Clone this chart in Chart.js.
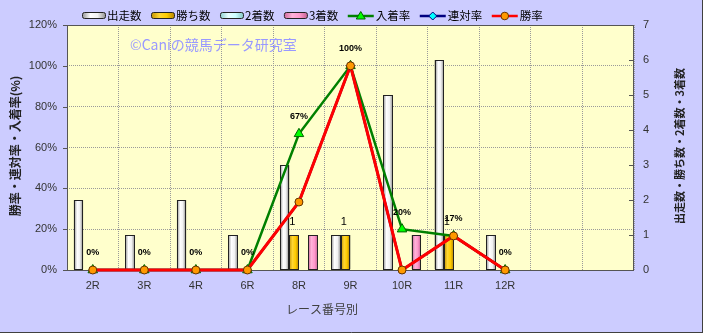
<!DOCTYPE html>
<html><head><meta charset="utf-8">
<script src="https://cdn.jsdelivr.net/npm/chart.js@4.4.1/dist/chart.umd.min.js"></script>
<style>html,body{margin:0;padding:0;background:#CCCCFF;}canvas{display:block;}</style>
</head><body>
<canvas id="c" width="703" height="333"></canvas>
<script>
const categories = ['2R','3R','4R','6R','8R','9R','10R','11R','12R','',''];
const starts   = [2,1,2,1,3,1,5,6,1];
const wins     = [0,0,0,0,1,1,0,1,0];
const seconds  = [0,0,0,0,0,0,0,0,0];
const thirds   = [0,0,0,0,1,0,1,0,0];
const placeRate   = [0,0,0,0,66.7,100,20,16.7,0];
const rentaiRate  = [0,0,0,0,33.3,100,0,16.7,0];
const winRate     = [0,0,0,0,33.3,100,0,16.7,0];
const leftTicks = [0,20,40,60,80,100,120];
const rightTicks = [0,1,2,3,4,5,6,7];

const JP = '"Noto Sans CJK JP", "Noto Sans", sans-serif';
const LAT = '"Liberation Sans", Arial, sans-serif';

const barStyles = {
  '出走数': ['#8f8f8f','#ffffff','#f2f2f2','#8a8a8a'],
  '勝ち数': ['#c09000','#ffd633','#ffcc00','#b08000'],
  '2着数': ['#88cccc','#e8ffff','#ccffff','#80c0c0'],
  '3着数': ['#cc6699','#ffb3d9','#ff99cc','#c06090']
};

function grad(ctx, x0, x1, stops){
  const g = ctx.createLinearGradient(x0,0,x1,0);
  g.addColorStop(0,stops[0]); g.addColorStop(0.35,stops[1]);
  g.addColorStop(0.65,stops[2]); g.addColorStop(1,stops[3]);
  return g;
}

const deco = {
  id:'deco',
  beforeDraw(chart){
    const {ctx, chartArea:a, width, height} = chart;
    ctx.save();
    ctx.fillStyle = '#CCCCFF'; ctx.fillRect(0,0,width,height);
    ctx.fillStyle = '#FFFFCC'; ctx.fillRect(a.left,a.top,a.right-a.left,a.bottom-a.top);
    ctx.restore();
  },
  beforeDatasetsDraw(chart){
    const {ctx, chartArea:a, scales} = chart;
    ctx.save();
    ctx.fillStyle = '#9999FF';
    ctx.font = '14px ' + JP;
    ctx.textBaseline = 'middle'; ctx.textAlign = 'left';
    ctx.fillText('©Caniの競馬データ研究室', 130, 45);
    ctx.strokeStyle = '#555'; ctx.lineWidth = 1;
    ctx.strokeRect(a.left+0.5, a.top+0.5, a.right-a.left-1, a.bottom-a.top);
    ctx.beginPath();
    leftTicks.forEach(v=>{ const y = Math.round(scales.y.getPixelForValue(v))+0.5; ctx.moveTo(a.left-4,y); ctx.lineTo(a.left,y); });
    rightTicks.forEach(v=>{ const y = Math.round(scales.y2.getPixelForValue(v))+0.5; ctx.moveTo(a.right-5,y); ctx.lineTo(a.right,y); });
    ctx.stroke();
    ctx.restore();
  },
  afterDatasetDraw(chart, args){
    const ds = chart.data.datasets[args.index];
    if (ds.type !== 'bar') return;
    const ctx = chart.ctx, st = barStyles[ds.label];
    ctx.save();
    args.meta.data.forEach(el=>{
      const p = el.getProps(['x','y','base','width'], true);
      const l = Math.round(p.x - p.width/2), r = Math.round(p.x + p.width/2);
      const t = Math.round(p.y), b = Math.round(p.base);
      if (b - t < 1) return;
      ctx.fillStyle = grad(ctx, l, r, st);
      ctx.fillRect(l, t, r-l, b-t);
      ctx.strokeStyle = '#222'; ctx.lineWidth = 1;
      ctx.strokeRect(l+0.5, t+0.5, r-l-1, b-t-1);
    });
    ctx.restore();
  },
  afterDatasetsDraw(chart){
    const ctx = chart.ctx;
    ctx.save();
    const metaPlace = chart.getDatasetMeta(2);
    ctx.fillStyle = '#000'; ctx.textAlign = 'center'; ctx.textBaseline = 'middle';
    ctx.font = 'bold 9px ' + LAT;
    metaPlace.data.forEach((pt,i)=>{
      if (placeRate[i] === undefined) return;
      ctx.fillText(Math.round(placeRate[i]) + '%', pt.x, pt.y - 17);
    });
    const metaWins = chart.getDatasetMeta(4);
    ctx.font = '11px ' + LAT;
    metaWins.data.forEach((el,i)=>{
      if (!wins[i]) return;
      ctx.fillText(String(wins[i]), el.x - 2, el.y - 13);
    });
    ctx.fillStyle = '#222';
    ctx.font = 'bold 12px ' + JP;
    ctx.save(); ctx.translate(15,146); ctx.rotate(-Math.PI/2);
    ctx.fillText('勝率・連対率・入着率(%)', 0, 0); ctx.restore();
    ctx.font = 'bold 11px ' + JP;
    ctx.save(); ctx.translate(680,146); ctx.rotate(-Math.PI/2);
    ctx.fillText('出走数・勝ち数・2着数・3着数', 0, 0); ctx.restore();
    ctx.fillStyle = '#404040';
    ctx.font = '12px ' + JP;
    ctx.fillText('レース番号別', 322, 309);
    const items = [
      {t:'出走数', bar:barStyles['出走数']},
      {t:'勝ち数', bar:barStyles['勝ち数']},
      {t:'2着数', bar:barStyles['2着数']},
      {t:'3着数', bar:barStyles['3着数']},
      {t:'入着率', line:'#008000', mk:'tri', fill:'#00FF00', stroke:'#006600'},
      {t:'連対率', line:'#000080', mk:'dia', fill:'#00FFFF', stroke:'#000080'},
      {t:'勝率', line:'#FF0000', mk:'cir', fill:'#FF9900', stroke:'#663300'}
    ];
    let x = 82; const cy = 16;
    ctx.font = '11.5px ' + JP; ctx.textAlign = 'left';
    items.forEach(it=>{
      if (it.bar){
        ctx.fillStyle = grad(ctx, x, x+24, it.bar);
        ctx.beginPath(); ctx.roundRect(x+0.5, cy-3.5, 23, 6, 2); ctx.fill();
        ctx.strokeStyle = '#222'; ctx.lineWidth = 1; ctx.stroke();
        x += 25;
      } else {
        ctx.strokeStyle = it.line; ctx.lineWidth = 2.5;
        ctx.beginPath(); ctx.moveTo(x, cy); ctx.lineTo(x+26, cy); ctx.stroke();
        const mx = x+13;
        ctx.fillStyle = it.fill; ctx.strokeStyle = it.stroke; ctx.lineWidth = 1;
        ctx.beginPath();
        if (it.mk==='tri'){ ctx.moveTo(mx,cy-4.5); ctx.lineTo(mx+4.5,cy+3); ctx.lineTo(mx-4.5,cy+3); ctx.closePath(); }
        else if (it.mk==='dia'){ ctx.moveTo(mx,cy-4); ctx.lineTo(mx+4,cy); ctx.lineTo(mx,cy+4); ctx.lineTo(mx-4,cy); ctx.closePath(); }
        else { ctx.arc(mx,cy,3.8,0,Math.PI*2); }
        ctx.fill(); ctx.stroke();
        x += 28;
      }
      ctx.fillStyle = '#000';
      ctx.fillText(it.t, x, cy);
      x += ctx.measureText(it.t).width + 9.5;
    });
    ctx.strokeStyle = '#404040'; ctx.lineWidth = 1;
    ctx.beginPath(); ctx.moveTo(702.5,0); ctx.lineTo(702.5,333); ctx.moveTo(0,332.5); ctx.lineTo(703,332.5); ctx.stroke();
    ctx.restore();
  }
};

const barCommon = {type:'bar', yAxisID:'y2', xAxisID:'x', categoryPercentage:0.74, barPercentage:1.0, borderWidth:1, borderColor:'#222'};

new Chart(document.getElementById('c'), {
  data: {
    labels: categories,
    datasets: [
      {type:'line', label:'勝率', data:winRate, yAxisID:'y', borderColor:'#FF0000', borderWidth:3, tension:0,
       pointStyle:'circle', pointRadius:4, pointBackgroundColor:'#FF9900', pointBorderColor:'#663300', pointBorderWidth:1, clip:false},
      {type:'line', label:'連対率', data:rentaiRate, yAxisID:'y', borderColor:'#000080', borderWidth:2.5, tension:0,
       pointStyle:'rectRot', pointRadius:4, pointBackgroundColor:'#00FFFF', pointBorderColor:'#000080', pointBorderWidth:1, clip:false},
      {type:'line', label:'入着率', data:placeRate, yAxisID:'y', borderColor:'#008000', borderWidth:2.5, tension:0,
       pointStyle:'triangle', pointRadius:5.5, pointBackgroundColor:'#00FF00', pointBorderColor:'#006600', pointBorderWidth:1, clip:false},
      Object.assign({label:'出走数', data:starts, backgroundColor:'#f0f0f0'}, barCommon),
      Object.assign({label:'勝ち数', data:wins, backgroundColor:'#FFCC00'}, barCommon),
      Object.assign({label:'2着数', data:seconds, backgroundColor:'#CCFFFF'}, barCommon),
      Object.assign({label:'3着数', data:thirds, backgroundColor:'#FF99CC'}, barCommon)
    ]
  },
  options: {
    responsive:false, animation:false, devicePixelRatio:1,
    layout:{padding:{top:25,left:0,right:0,bottom:0}},
    plugins:{legend:{display:false}, tooltip:{enabled:false}},
    scales:{
      x:{type:'category', offset:true,
         grid:{offset:true, color:'#9A9A9A', drawTicks:false},
         border:{display:false, dash:[1,1]},
         ticks:{padding:9, color:'#333', font:{family:LAT, size:11}, maxRotation:0, autoSkip:false},
         afterFit(s){ s.height = 63; }},
      y:{position:'left', min:0, max:120,
         grid:{color:'#9A9A9A', drawTicks:false},
         border:{display:false, dash:[1,1]},
         ticks:{stepSize:20, padding:10, color:'#333', font:{family:LAT, size:11}, callback:v=>v+'%'},
         afterFit(s){ s.width = 67; }},
      y2:{position:'right', min:0, max:7,
         grid:{drawOnChartArea:false, drawTicks:false},
         border:{display:false},
         ticks:{stepSize:1, padding:9, color:'#333', font:{family:LAT, size:11}},
         afterFit(s){ s.width = 69; }}
    }
  },
  plugins:[deco]
});
</script>
</body></html>
